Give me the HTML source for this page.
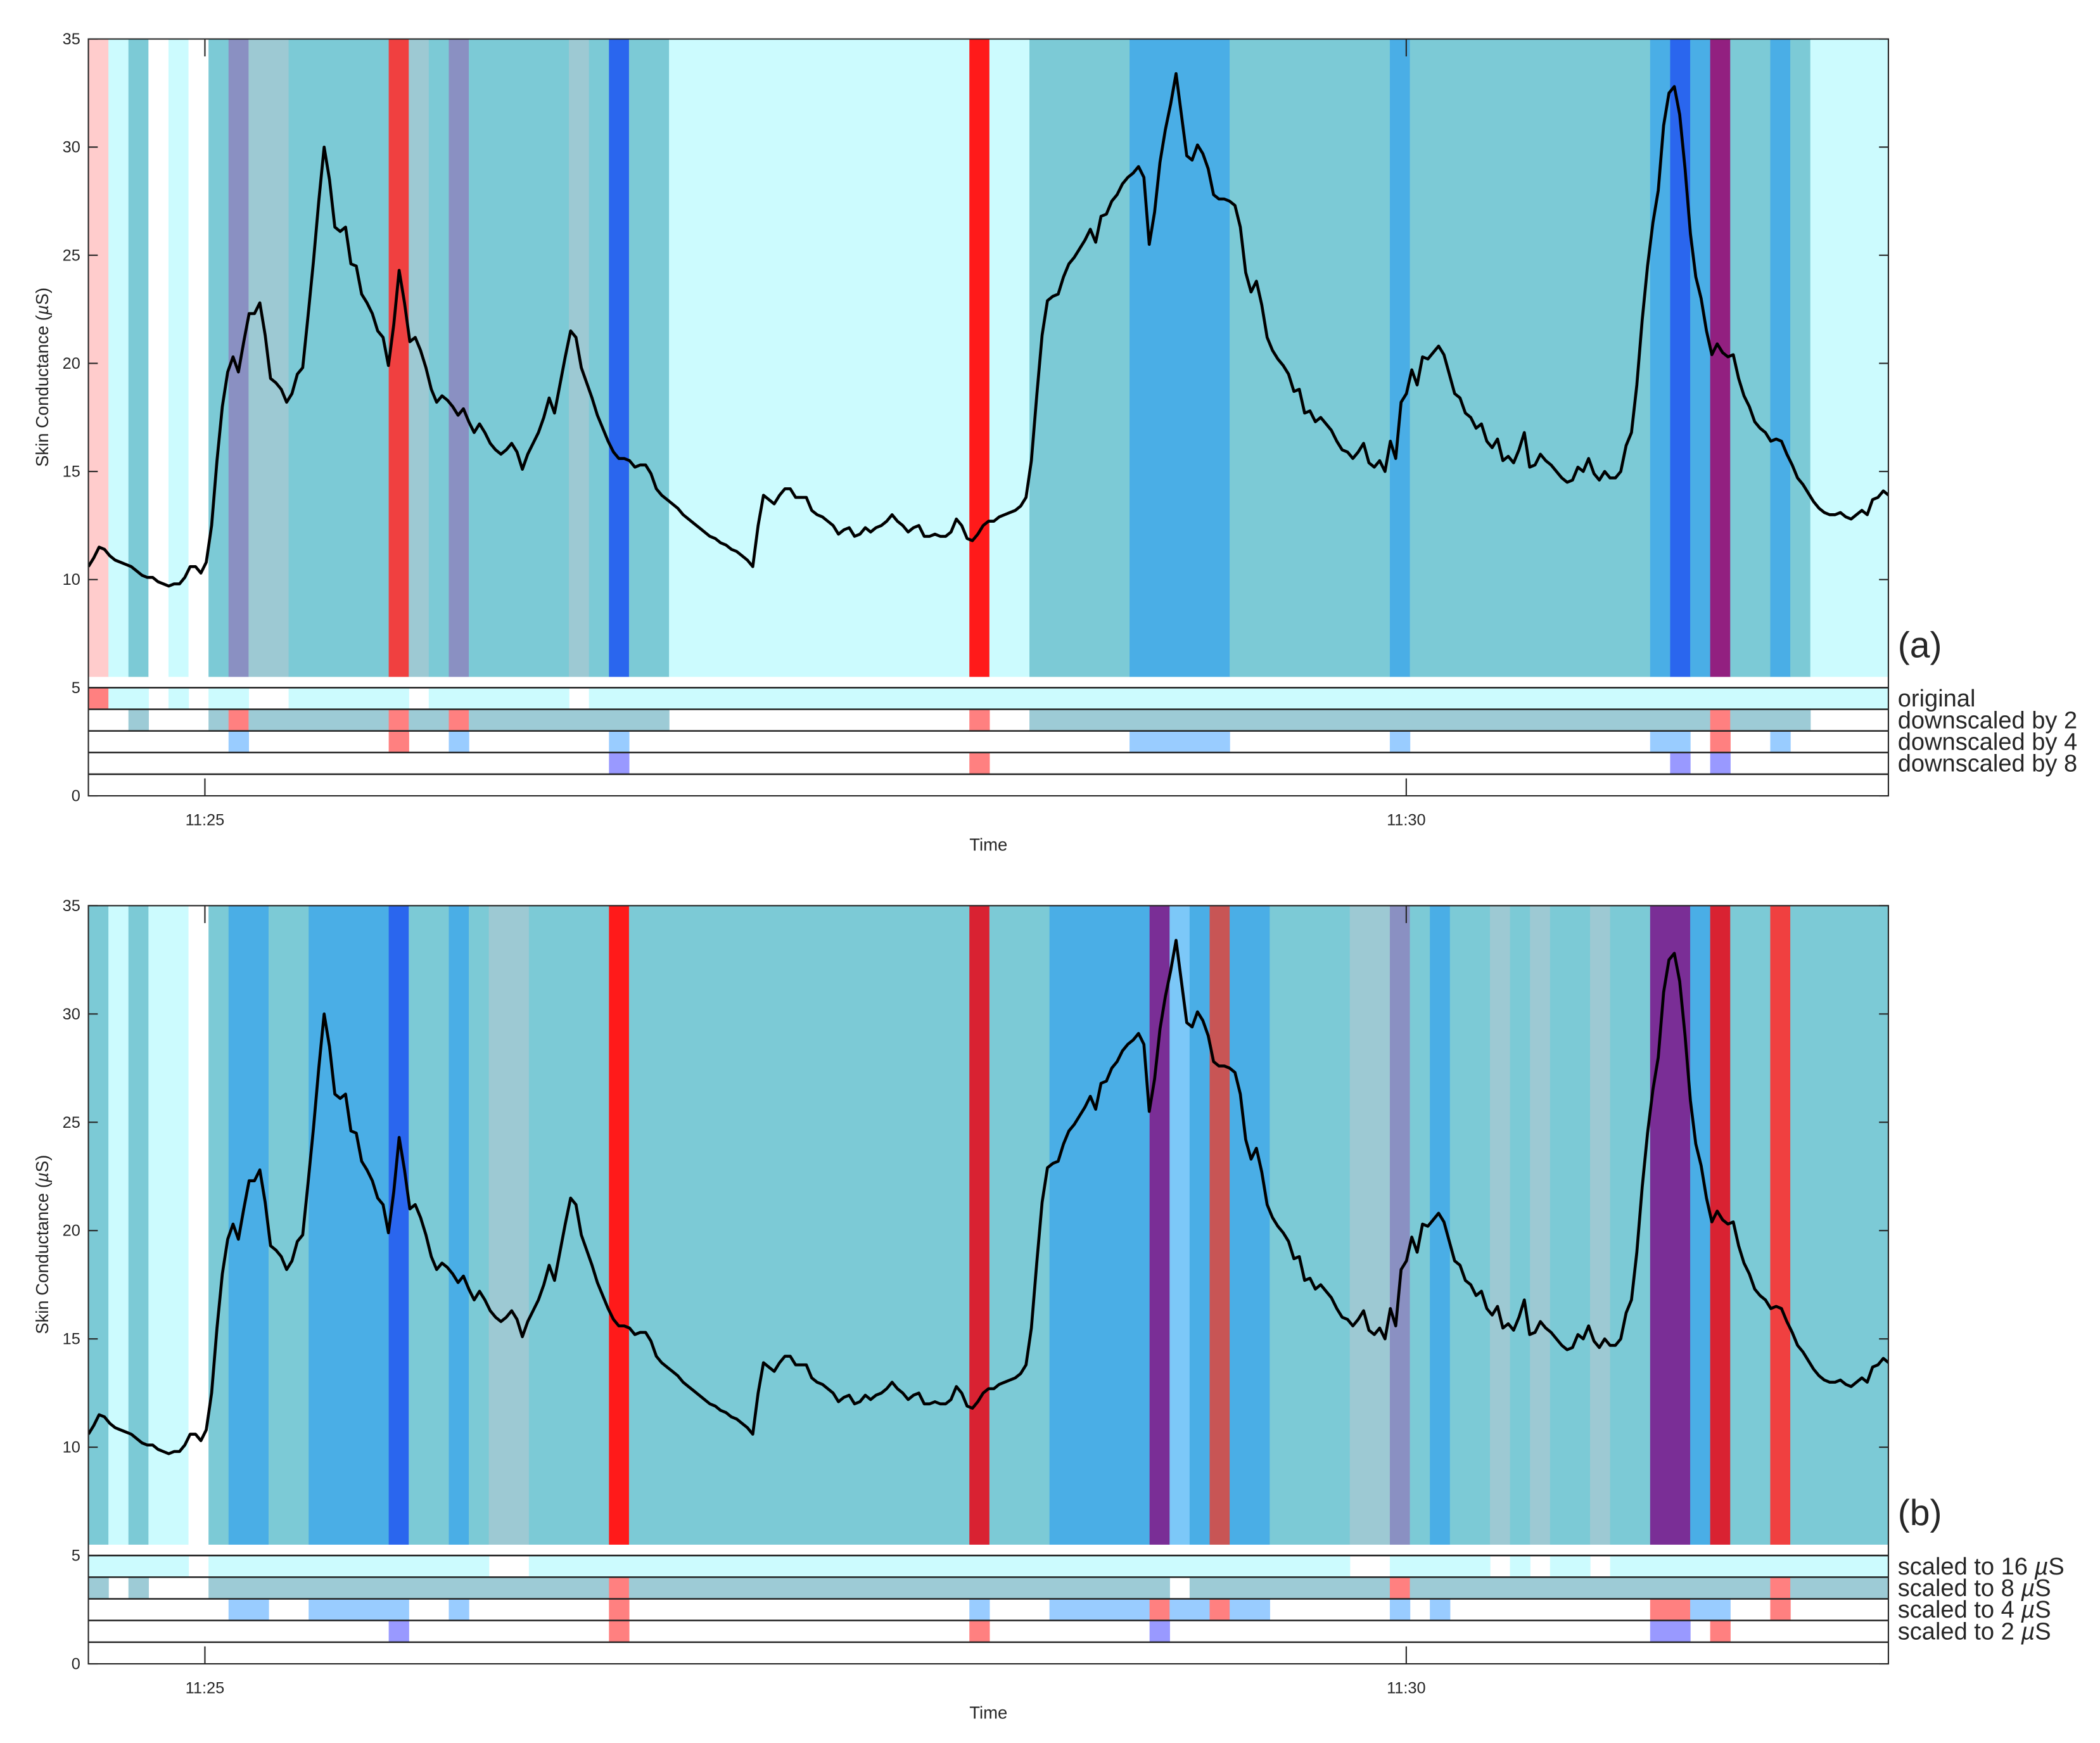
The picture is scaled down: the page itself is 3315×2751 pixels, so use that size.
<!DOCTYPE html>
<html><head><meta charset="utf-8"><style>
html,body{margin:0;padding:0;background:#fff}
svg{display:block}
text{font-family:"Liberation Sans",Arial,sans-serif;fill:#262626}
</style></head><body>
<svg id="svg" width="3315" height="2751" viewBox="0 0 1568 1301" xmlns="http://www.w3.org/2000/svg"></svg>
<script>
// ---- data ----
const signalStartSec = -29.1;       // seconds relative to 11:25:00
const signalStepSec = 1.338;
const signalValues = [10.6,11.0,11.5,11.4,11.1,10.9,10.8,10.7,10.6,10.4,10.2,10.1,10.1,9.9,9.8,9.7,9.8,9.8,10.1,10.6,10.6,10.3,10.8,12.5,15.5,18,19.6,20.3,19.6,21,22.3,22.3,22.8,21.3,19.3,19.1,18.8,18.2,18.6,19.5,19.8,22.2,24.7,27.5,30,28.5,26.3,26.1,26.3,24.6,24.5,23.2,22.8,22.3,21.5,21.2,19.9,21.8,24.3,22.8,21,21.2,20.6,19.8,18.8,18.2,18.5,18.3,18.0,17.6,17.9,17.3,16.8,17.2,16.8,16.3,16.0,15.8,16.0,16.3,15.9,15.1,15.8,16.3,16.8,17.5,18.4,17.7,19,20.3,21.5,21.2,19.8,19.1,18.4,17.6,17.0,16.4,15.9,15.6,15.6,15.5,15.2,15.3,15.3,14.9,14.2,13.9,13.7,13.5,13.3,13.0,12.8,12.6,12.4,12.2,12.0,11.9,11.7,11.6,11.4,11.3,11.1,10.9,10.6,12.5,13.9,13.7,13.5,13.9,14.2,14.2,13.8,13.8,13.8,13.2,13.0,12.9,12.7,12.5,12.1,12.3,12.4,12.0,12.1,12.4,12.2,12.4,12.5,12.7,13.0,12.7,12.5,12.2,12.4,12.5,12.0,12.0,12.1,12.0,12.0,12.2,12.8,12.5,11.9,11.8,12.1,12.5,12.7,12.7,12.9,13.0,13.1,13.2,13.4,13.8,15.5,18.5,21.3,22.9,23.1,23.2,24.0,24.6,24.9,25.3,25.7,26.2,25.6,26.8,26.9,27.5,27.8,28.3,28.6,28.8,29.1,28.6,25.5,27,29.3,30.8,32,33.4,31.5,29.6,29.4,30.1,29.7,29.0,27.8,27.6,27.6,27.5,27.3,26.3,24.2,23.3,23.8,22.7,21.2,20.6,20.2,19.9,19.5,18.7,18.8,17.7,17.8,17.3,17.5,17.2,16.9,16.4,16.0,15.9,15.6,15.9,16.3,15.4,15.2,15.5,15.0,16.4,15.6,18.2,18.6,19.7,19.0,20.3,20.2,20.5,20.8,20.4,19.5,18.6,18.4,17.7,17.5,17.0,17.2,16.4,16.1,16.5,15.5,15.7,15.4,16.0,16.8,15.2,15.3,15.8,15.5,15.3,15.0,14.7,14.5,14.6,15.2,15.0,15.6,14.9,14.6,15.0,14.7,14.7,15.0,16.2,16.8,19,22,24.5,26.5,28,31,32.5,32.8,31.5,29,26,24,23,21.5,20.4,20.9,20.5,20.3,20.4,19.3,18.5,18.0,17.3,17.0,16.8,16.4,16.5,16.4,15.8,15.3,14.7,14.4,14.0,13.6,13.3,13.1,13.0,13.0,13.1,12.9,12.8,13.0,13.2,13.0,13.7,13.8,14.1,13.9];
const windowStartSec = -29.1;
const windowLenSec = 5;
// band runs: [code, count]
const topBandRuns = [['P',1],['L',1],['T',1],['W',1],['L',1],['W',1],['T',1],['V',1],['G',2],['T',5],['R1',1],['G',1],['T',1],['V',1],['T',5],['G',1],['T',1],['B',1],['T',2],['L',15],['R2',1],['L',2],['T',5],['M',5],['T',8],['M',1],['T',12],['M',1],['B',1],['M',1],['U',1],['T',2],['M',1],['T',1],['L',4]];
const botBandRuns = [['T',1],['L',1],['T',1],['L',2],['W',1],['T',1],['M',2],['T',2],['M',4],['B',1],['T',2],['M',1],['T',1],['G',2],['T',4],['R2',1],['T',17],['R3',1],['T',3],['M',5],['U2',1],['LB',1],['M',1],['R4',1],['M',2],['T',4],['G',2],['V',1],['T',1],['M',1],['T',2],['G',1],['T',1],['G',1],['T',2],['G',1],['T',2],['U2',2],['M',1],['R3',1],['T',2],['R1',1],['T',5]];
// strip rows: [code, count], '0' = empty, 'X' = on, 'r' = red
const topStripRows = [
 [['r',1],['X',2],['0',1],['X',1],['0',1],['X',2],['0',2],['X',6],['0',1],['X',7],['0',1],['X',65]],
 [['0',2],['X',1],['0',3],['X',1],['r',1],['X',7],['r',1],['X',2],['r',1],['X',10],['0',15],['r',1],['0',2],['X',34],['r',1],['X',4],['0',4]],
 [['0',7],['X',1],['0',7],['r',1],['0',2],['X',1],['0',7],['X',1],['0',25],['X',5],['0',8],['X',1],['0',12],['X',2],['0',1],['r',1],['0',2],['X',1],['0',5]],
 [['0',26],['X',1],['0',17],['r',1],['0',34],['X',1],['0',1],['X',1],['0',8]]
];
const botStripRows = [
 [['X',5],['0',1],['X',14],['0',2],['X',41],['0',2],['X',5],['0',1],['X',1],['0',1],['X',2],['0',1],['X',14]],
 [['X',1],['0',1],['X',1],['0',3],['X',20],['r',1],['X',27],['0',1],['X',10],['r',1],['X',18],['r',1],['X',5]],
 [['0',7],['X',2],['0',2],['X',5],['0',2],['X',1],['0',7],['r',1],['0',17],['X',1],['0',3],['X',5],['r',1],['X',2],['r',1],['X',2],['0',6],['X',1],['0',1],['X',1],['0',10],['r',2],['X',2],['0',2],['r',1],['0',5]],
 [['0',15],['X',1],['0',10],['r',1],['0',17],['r',1],['0',8],['X',1],['0',24],['X',2],['0',1],['r',1],['0',8]]
];
const yTicks = [0,5,10,15,20,25,30,35];
const xTickSec = [0,300];
const xTickLabels = ['11:25','11:30'];
const topStripLabels = ['original','downscaled by 2','downscaled by 4','downscaled by 8'];
const botStripLabels = ['16','8','4','2'];

const bandColors = {P:'#ffcccc',L:'#ccfbfe',T:'#7ccad6',W:'#ffffff',V:'#8a90c2',G:'#9dc9d3',R1:'#f04040',R2:'#ff1a1a',R3:'#d92232',R4:'#c85555',B:'#2a66ee',M:'#4aaee6',U:'#922080',U2:'#7a2e96',LB:'#7cc8f8'};
const stripOn = ['#ccfbfe','#9dcbd6','#99ccff','#9999ff'];

// ---- drawing ----
const svg = document.getElementById('svg');
const NS = 'http://www.w3.org/2000/svg';
function mk(tag, attrs, parent){const e=document.createElementNS(NS,tag);for(const k in attrs)e.setAttribute(k,attrs[k]);(parent||svg).appendChild(e);return e;}
const X0=66,X1=1410;
const xs = t => 153 + t*(897/300);

function drawPanel(top, bot, bandRuns, stripRows, labels, isScaled, tag, name){
  const g = mk('g',{});
  
  
  const ys = v => bot - v*(bot-top)/35;
  const clipId = 'clip'+name;
  const cp = mk('clipPath',{id:clipId},g); mk('rect',{x:X0,y:top,width:X1-X0,height:bot-top},cp);
  const inner = mk('g',{'clip-path':'url(#'+clipId+')'},g);
  let k=0;
  bandRuns.forEach(([c,n])=>{
    const r = mk('rect',{x:xs(windowStartSec+k*windowLenSec),y:ys(35),width:xs(windowStartSec+(k+n)*windowLenSec)-xs(windowStartSec+k*windowLenSec)+0.3,height:ys(5.5)-ys(35),fill:bandColors[c]},inner);
    
    
    k+=n;
  });
  stripRows.forEach((row,ri)=>{
    const yTop = ys(5-ri), yB = ys(4-ri);
    let kk=0;
    row.forEach(([c,n])=>{
      if(c!=='0'){
        const r = mk('rect',{x:xs(windowStartSec+kk*windowLenSec),y:yTop,width:xs(windowStartSec+(kk+n)*windowLenSec)-xs(windowStartSec+kk*windowLenSec)+0.3,height:yB-yTop,fill:c==='r'?'#ff8080':stripOn[ri]},inner);
        
        
      }
      kk+=n;
    });
  });
  [5,4,3,2,1].forEach(v=>{ mk('line',{x1:X0,x2:X1,y1:ys(v),y2:ys(v),stroke:'#222','stroke-width':1.2},g); });
  let d='';
  signalValues.forEach((v,i)=>{ d+=(i?'L':'M')+xs(signalStartSec+i*signalStepSec).toFixed(2)+','+ys(v).toFixed(2); });
  const p = mk('path',{d:d,fill:'none',stroke:'#000','stroke-width':2.2,'stroke-linejoin':'round'},inner);
  
  
  mk('rect',{x:X0,y:top,width:X1-X0,height:bot-top,fill:'none',stroke:'#262626','stroke-width':1},g);
  yTicks.forEach(v=>{
    mk('line',{x1:X0,x2:X0+7,y1:ys(v),y2:ys(v),stroke:'#262626'},g);
    mk('line',{x1:X1,x2:X1-7,y1:ys(v),y2:ys(v),stroke:'#262626'},g);
    const t = mk('text',{x:X0-6,y:ys(v)+4,'text-anchor':'end','font-size':12},g);
    t.textContent=v;
    
    
  });
  xTickSec.forEach((s,i)=>{
    mk('line',{x1:xs(s),x2:xs(s),y1:bot,y2:bot-13,stroke:'#262626'},g);
    mk('line',{x1:xs(s),x2:xs(s),y1:top,y2:top+13,stroke:'#262626'},g);
    const t = mk('text',{x:xs(s),y:bot+22,'text-anchor':'middle','font-size':12},g);
    t.textContent=xTickLabels[i];
    
    
  });
  const xt = mk('text',{x:738,y:bot+41,'text-anchor':'middle','font-size':13},g);
  xt.textContent='Time';
  
  
  const yc=(top+bot)/2 - 30;
  const yt = mk('text',{x:0,y:0,'text-anchor':'middle','font-size':13,transform:'translate(36,'+yc+') rotate(-90)'},g);
  yt.innerHTML='Skin Conductance (<tspan font-style="italic">µ</tspan>S)';
  
  
  labels.forEach((l,i)=>{
    const t = mk('text',{x:1417,y:ys(4.5-i)+6,'font-size':18,fill:'#000'},g);
    if(isScaled) t.innerHTML='scaled to '+l+' <tspan font-style="italic">µ</tspan>S'; else t.textContent=l;
    
    
  });
  const tg = mk('text',{x:1417,y:ys(6.4),'font-size':27,fill:'#000'},g);
  tg.textContent=tag;
  
  
}
drawPanel(29,594,topBandRuns,topStripRows,topStripLabels,false,'(a)','panel-a');
drawPanel(676,1242,botBandRuns,botStripRows,botStripLabels,true,'(b)','panel-b');
</script>
</body></html>
